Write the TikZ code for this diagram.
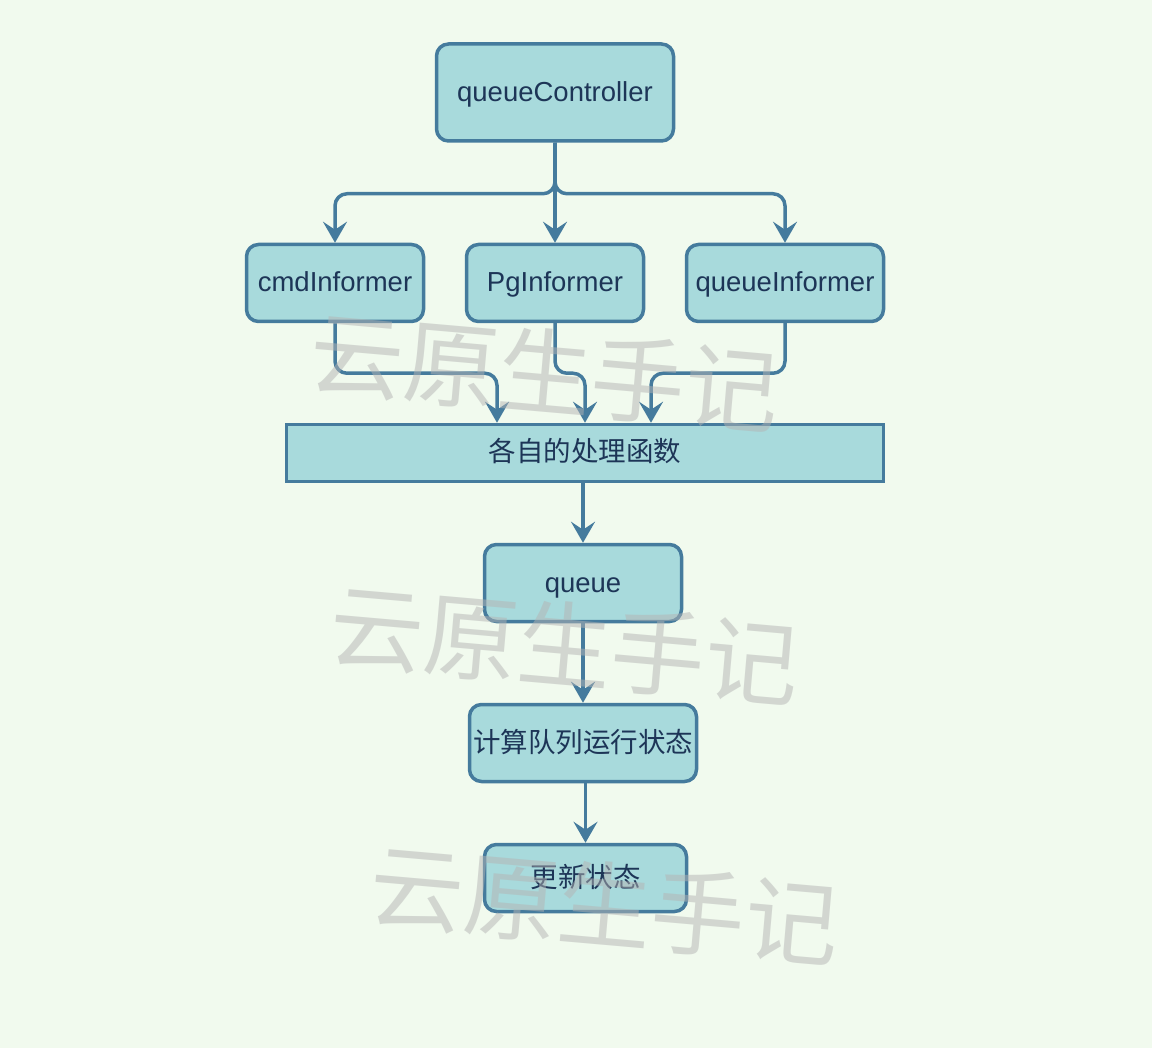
\documentclass[tikz,border=0pt]{standalone}
\usepackage{fontspec}
\setmainfont{Liberation Sans}
\newfontfamily\cjk{Noto Sans CJK SC}
\usetikzlibrary{arrows.meta}
\definecolor{bg}{HTML}{F1FAEE}
\definecolor{boxfill}{HTML}{A8DADC}
\definecolor{stroke}{HTML}{457B9D}
\definecolor{txt}{HTML}{1D3557}
\definecolor{wmgray}{HTML}{B4B4B4}
\begin{document}
\begin{tikzpicture}[x=1pt,y=-1pt,
  box/.style={draw=stroke, fill=boxfill, line width=3.5pt, rounded corners=12pt,
    text=txt, inner sep=0pt, text height=22pt, text depth=4pt,
    font=\fontsize{27.5}{33}\selectfont},
  sqbox/.style={box, rounded corners=0pt},
  conn/.style={draw=stroke, line width=3.5pt, rounded corners=12pt,
    -{Stealth[length=21pt,width=24pt,inset=8pt]}},
  wm/.style={text=wmgray, opacity=0.5, rotate=-5, inner sep=0pt,
    font=\cjk\fontsize{94}{94}\selectfont}]
\fill[bg] (0,0) rectangle (1152,1048);
\useasboundingbox (0,0) rectangle (1152,1048);

\node[box, minimum width=237pt, minimum height=97pt] (qc) at (555,92.5) {queueController};
\node[box, minimum width=177pt, minimum height=77pt] (cmd) at (335,283) {cmdInformer};
\node[box, minimum width=177pt, minimum height=77pt] (pg) at (555,283) {PgInformer};
\node[box, minimum width=197pt, minimum height=77pt] (qi) at (785,283) {queueInformer};
\node[sqbox, minimum width=597pt, minimum height=57pt, font=\cjk\fontsize{27.5}{33}\selectfont] (proc) at (585,453) {各自的处理函数};
\node[box, minimum width=197pt, minimum height=77pt] (queue) at (583,583) {queue};
\node[box, minimum width=227pt, minimum height=77pt, font=\cjk\fontsize{27.5}{33}\selectfont] (calc) at (583,743) {计算队列运行状态};
\node[box, minimum width=202pt, minimum height=67pt, font=\cjk\fontsize{27.5}{33}\selectfont] (upd) at (585.5,878) {更新状态};

\draw[conn] (qc.south) -- ++(0,51) -| (cmd.north);
\draw[conn] (qc.south) -- (pg.north);
\draw[conn] (qc.south) -- ++(0,51) -| (qi.north);

\draw[conn] (cmd.south) -- ++(0,50) -| ([xshift=-88pt]proc.north);
\draw[conn] (pg.south) -- ++(0,50) -| (proc.north);
\draw[conn] (qi.south) -- ++(0,50) -| ([xshift=66pt]proc.north);

\draw[conn] (proc.south -| queue.north) -- (queue.north);
\draw[conn] (queue.south) -- (calc.north);
\draw[conn] (calc.south -| upd.north) -- (upd.north);

\node[wm] (wm1) at (545,372) {云原生手记};
\node[wm] (wm2) at (565,645) {云原生手记};
\node[wm] (wm3) at (605,905) {云原生手记};
\end{tikzpicture}
\end{document}
